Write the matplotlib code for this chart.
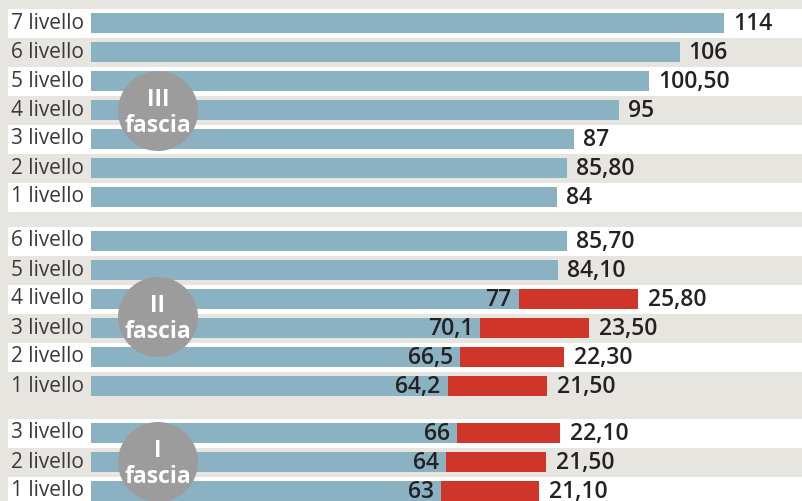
import matplotlib.pyplot as plt
from matplotlib.patches import Ellipse, Rectangle

# dati
fasce = ["III\nfascia", "II\nfascia", "I\nfascia"]
livelli_III = ["7 livello", "6 livello", "5 livello", "4 livello", "3 livello", "2 livello", "1 livello"]
valori_III = [114, 106, 100.50, 95, 87, 85.80, 84]
etichette_III = ["114", "106", "100,50", "95", "87", "85,80", "84"]

livelli_II = ["6 livello", "5 livello", "4 livello", "3 livello", "2 livello", "1 livello"]
valori_II = [85.70, 84.10, 77, 70.1, 66.5, 64.2]
etichette_II = ["85,70", "84,10", "77", "70,1", "66,5", "64,2"]
extra_II = [0, 0, 25.80, 23.50, 22.30, 21.50]
etichette_extra_II = ["", "", "25,80", "23,50", "22,30", "21,50"]

livelli_I = ["3 livello", "2 livello", "1 livello"]
valori_I = [66, 64, 63]
etichette_I = ["66", "64", "63"]
extra_I = [22.10, 21.50, 21.10]
etichette_extra_I = ["22,10", "21,50", "21,10"]

BLU = "#8bb2c3"
ROSSO = "#cf3629"
SFONDO = "#e6e5df"
GRIGIO = "#9c9c9c"
TESTO = "#222222"

PX = 5.553          # pixel per unita'
X0 = 91             # inizio barre in pixel
SCALA_ROSSO = 0.836 # le barre rosse sono disegnate in scala ridotta
PASSO = 29
INIZI = [23, 241, 433]

fig = plt.figure(figsize=(8.02, 5.01), dpi=100)
fig.patch.set_facecolor(SFONDO)
ax = fig.add_axes([0, 0, 1, 1])
ax.set_facecolor(SFONDO)
ax.set_xlim(-X0 / PX, (802 - X0) / PX)
ax.set_ylim(501, 0)
ax.axis("off")

gruppi = [
    (livelli_III, valori_III, etichette_III, [0] * 7, [""] * 7),
    (livelli_II, valori_II, etichette_II, extra_II, etichette_extra_II),
    (livelli_I, valori_I, etichette_I, extra_I, etichette_extra_I),
]

stile_val = dict(va="center", fontsize=16.5, fontweight="semibold", color=TESTO,
                 family="Open Sans", zorder=3)

xs = -X0 / PX
for g, (liv, val, etq, ext, etq_ext) in enumerate(gruppi):
    ys = [INIZI[g] + PASSO * i for i in range(len(liv))]
    for i, y in enumerate(ys):
        if i % 2 == 0:
            ax.add_patch(Rectangle((8 / PX + xs, y - 14.5), 900, 29, color="white", lw=0, zorder=0))
        ax.text(xs + 11 / PX, y, liv[i], ha="left", va="center", fontsize=15,
                color="#3a3a3a", family="Open Sans", zorder=3)
    ax.barh(ys, val, height=20, left=0, color=BLU, zorder=1)
    for i, y in enumerate(ys):
        if ext[i] > 0:
            w = ext[i] * SCALA_ROSSO
            ax.barh(y, w, height=20, left=val[i], color=ROSSO, zorder=1)
            ax.text(val[i] - 7 / PX, y + 1, etq[i], ha="right", **stile_val)
            ax.text(val[i] + w + 10 / PX, y + 1, etq_ext[i], ha="left", **stile_val)
        else:
            ax.text(val[i] + 9 / PX, y + 1, etq[i], ha="left", **stile_val)

# cerchi delle fasce
centri = [(158, 111), (158, 317), (158, 462)]
for (cx, cy), nome in zip(centri, fasce):
    xc = (cx - X0) / PX
    ax.add_patch(Ellipse((xc, cy), 80 / PX, 80, color=GRIGIO, lw=0, zorder=2))
    ax.text(xc, cy + 2, nome, ha="center", va="center", fontsize=16.5, fontweight="bold",
            color="white", family="Open Sans", linespacing=1.1, zorder=3)

fig.savefig("out.png", dpi=100, facecolor=SFONDO)
